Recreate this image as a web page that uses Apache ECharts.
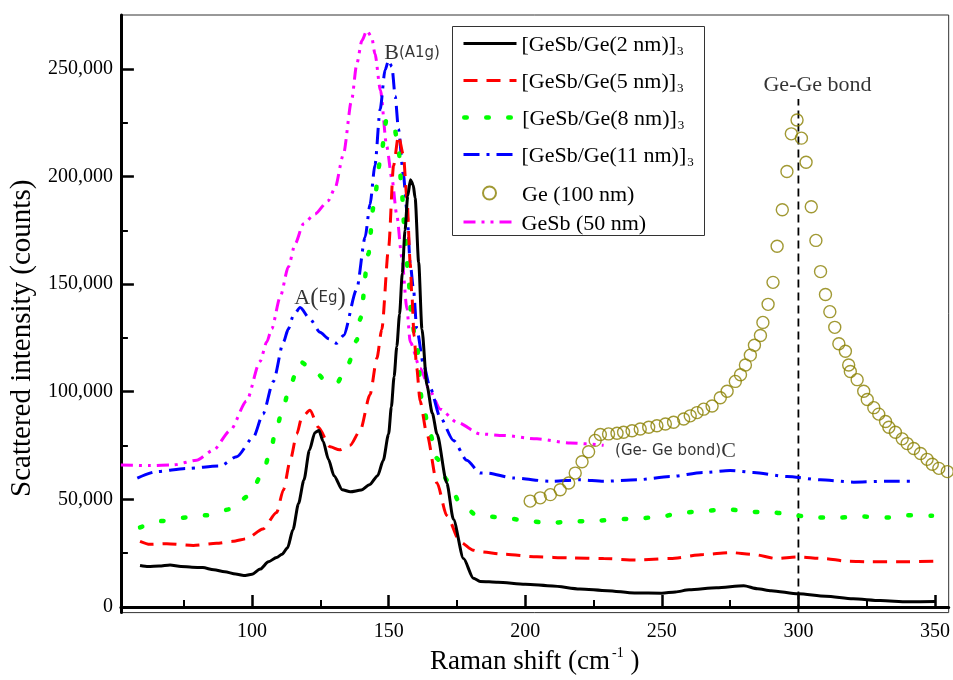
<!DOCTYPE html>
<html>
<head>
<meta charset="utf-8">
<script src="https://cdn.jsdelivr.net/npm/echarts@6/dist/echarts.min.js"></script>
<style>html,body{margin:0;padding:0;background:#fff;}#c{width:953px;height:680px;}</style>
</head>
<body>
<div id="c"></div>
<script>
// ---- data (Raman shift cm^-1, counts) ----
var nm2 = [[59,19300],[62,18800],[66,19000],[70,19500],[74,18800],[78,18500],[82,18300],[86,17300],[90,16400],[94,15300],[97,14600],[100,15200],[103,17600],[106,21000],[109,23000],[111,24500],[113,27500],[115,36000],[117,48000],[119,59000],[121,72800],[123,81000],[124.5,82000],[126,77000],[128,68500],[130,61000],[133,54500],[136,53500],[140,54300],[143,56800],[146,61000],[148,68000],[150,80400],[151,93000],[152,107000],[153,121000],[154,136000],[155,155000],[156,175000],[157,191000],[158,198500],[159,196000],[159.7,190000],[161,160000],[162.2,129000],[164,103000],[166,90000],[167.7,80400],[171.3,57600],[173.7,40800],[177.4,22500],[181,13400],[183.5,11900],[190,11500],[200,10600],[210,9800],[220,8400],[230,7600],[240,6500],[250,6400],[255,7000],[260,8000],[270,9000],[280,9900],[285,8500],[290,7600],[300,6100],[310,5000],[320,3800],[330,3000],[340,2400],[350,2500]];
var nm5 = [[59,30500],[62.6,29100],[68.8,29400],[78.5,28600],[87,29600],[93,30500],[98,31700],[104,36200],[109,43900],[111.5,54500],[114,68200],[116.4,80400],[118.2,88000],[121.2,91400],[124.3,83500],[128.6,74400],[132,73000],[135.9,75100],[139.6,82000],[143.2,98700],[145.7,115500],[147.5,129000],[150,167000],[151.8,205000],[153.6,219000],[155.4,210000],[156.7,190000],[157.9,160000],[158.5,145000],[159.3,126000],[160.3,111000],[161.5,95700],[164,80400],[167.7,57600],[171.3,42400],[176.2,30200],[181,26400],[183.5,25600],[192,24500],[204.3,23300],[216.5,22800],[228.7,22500],[240.9,21800],[253.1,22500],[265.3,24400],[275,25300],[283.6,24400],[292,22500],[299.5,23300],[309.3,22500],[317.8,21300],[326.4,21000],[338.6,21000],[350.2,21300]];
var nm8 = [[59,37000],[67.5,40000],[76,41600],[83.4,42600],[92,45400],[98.7,51500],[104,62200],[106.6,72000],[109,83500],[111.5,93400],[114,103300],[117.6,114000],[120.5,112000],[123.7,108600],[127,105000],[131,104000],[135.3,113200],[138.3,123800],[139.6,133800],[142.6,164000],[144.4,185500],[146.9,207000],[149.3,226700],[151.8,224400],[153.6,213700],[154.8,193000],[156,171800],[157.3,152000],[158.5,132200],[160.3,121600],[162.2,95600],[165.2,80400],[167.7,69000],[171.3,59000],[176.2,48400],[182.3,42600],[190.8,41600],[199.4,40400],[207.9,39000],[216.5,39600],[225,40100],[241,41100],[249.5,42000],[258,43900],[265.3,44600],[273.9,45400],[282.4,44200],[291,43900],[299.5,42400],[306.8,41600],[315.4,41600],[323.9,42000],[332.5,41600],[339.8,42600],[348.9,42400]];
var nm11 = [[58,59900],[65.1,62900],[76,64400],[88.3,65500],[94.4,69800],[100.5,78900],[104,89600],[107.8,104800],[111.5,123100],[113.3,129200],[115.1,135300],[117.6,139100],[121.2,133800],[124.9,127600],[128,124600],[131,122500],[133.5,126100],[138.3,147500],[141.4,171800],[143.2,187000],[145,205300],[146.9,231200],[148.7,249500],[150,254000],[151.2,251000],[152.4,237300],[153.6,222000],[155.4,200800],[156.7,184000],[157.9,159600],[159.1,147500],[160.3,129200],[162.8,112400],[165.2,101800],[168.9,88000],[173.7,77400],[178.6,68200],[183.5,62200],[186,62200],[195.7,59900],[209.2,58400],[220.1,59100],[228.7,58400],[241,59100],[253.1,60600],[265.3,62500],[275,63400],[283.6,62500],[295.8,60600],[308,59100],[320.2,58000],[332.5,58400],[342.9,58400]];
var ge100 = [[201.8,49200],[205.5,50700],[209.2,52200],[212.8,54500],[215.9,57600],[218.3,62200],[220.8,67500],[223.2,72100],[225.6,77400],[227.5,80100],[230.5,80400],[233.6,80700],[236,81200],[239.1,81900],[242.1,82700],[245.2,83500],[248.2,84200],[251.3,85000],[254.3,85800],[258,87300],[260.4,88800],[262.9,90300],[265.3,91900],[268.4,93400],[271.4,97200],[273.9,100200],[276.9,104800],[278.8,107900],[280.6,112400],[282.4,117000],[283.9,121600],[286.1,126100],[287,132200],[288.9,140600],[290.7,150800],[292.2,167600],[294.1,184500],[295.8,202300],[297.4,219800],[299.5,226200],[301.1,217800],[302.8,206600],[304.7,185900],[306.4,170300],[308.1,155800],[309.9,145200],[311.5,137200],[313.3,129900],[314.8,122300],[317.2,118800],[318.4,112400],[319,109400],[321.5,105600],[323.9,100200],[325.2,96400],[327.6,92600],[329.4,89600],[331.9,86200],[333.1,83500],[335.5,81200],[338,78100],[339.8,75900],[342.2,73600],[344.7,71300],[347.1,68600],[349,66300],[351.4,64400],[354.5,62900]];
var gesb50 = [[52,66000],[62.6,65700],[71.2,66000],[79.7,68200],[85.8,72800],[92,82000],[98,95700],[102.9,114000],[105.4,123100],[107.2,129200],[110.3,144000],[113.3,158000],[115.8,168800],[118.8,178000],[123,182500],[127.9,188700],[130.4,194700],[133.4,210000],[136.5,235800],[138.3,252000],[140.2,263000],[142,267800],[143.8,264700],[145,257000],[147,240000],[149.3,214000],[151.2,199000],[153,182000],[154.8,162700],[156.7,138500],[157.9,123100],[161.5,111000],[165.2,100200],[168.9,91900],[175,85800],[183.5,80400],[192,79700],[204.3,78100],[216.5,76200],[228.7,75100]];
var bondLine = [[300,-2600],[300,236000]];
var seriesNames = ['[GeSb/Ge(2 nm)]3','[GeSb/Ge(5 nm)]3','[GeSb/Ge(8 nm)]3','[GeSb/Ge(11 nm)]3','Ge (100 nm)','GeSb (50 nm)'];
var xMajor = [100,150,200,250,300,350];
var xMinor = [75,125,175,225,275,325];
var yMajor = [0,50000,100000,150000,200000,250000];
var yMinor = [25000,75000,125000,175000,225000];
var annotations = [
  {pos:[124.9,143500], text:'{a|A}{p|(}{s|Eg}{p|)}'},
  {pos:[158.6,257300], text:'{a|B}{s|(A1g)}'},
  {pos:[307,242500], text:'{a|Ge-Ge bond}'},
  {pos:[255,72300], text:'{s|(Ge- Ge bond)}{a|C}'}
];

var SERIF = 'Liberation Serif';
var SANS = 'DejaVu Sans';
var chart = echarts.init(document.getElementById('c'), null, {renderer:'canvas'});

function fmt(v){ return String(v).replace(/\B(?=(\d{3})+(?!\d))/g, ','); }

var lineStyles = {};
function lineSeries(name, data, color, type, width, cap){
  lineStyles[name] = {color: color, width: width, type: type, cap: cap || 'butt'};
  return {
    name: name, type: 'line', data: data, symbol: 'none', showSymbol: false,
    smooth: 0.25, smoothMonotone: 'x',
    lineStyle: lineStyles[name],
    itemStyle: {color: color}, z: 3
  };
}

var series = [
  lineSeries(seriesNames[5], gesb50, '#ff00ff', [12,6,3,6,3,6], 3),
  lineSeries(seriesNames[3], nm11, '#0000ff', [16,7,3,7], 3),
  lineSeries(seriesNames[2], nm8, '#00ff00', [2.5,19.5], 4.5, 'round'),
  lineSeries(seriesNames[1], nm5, '#ff0000', [14,9], 3),
  lineSeries(seriesNames[0], nm2, '#000000', 'solid', 3),
  {
    name: seriesNames[4], type: 'scatter', data: ge100, symbol: 'circle', symbolSize: 12,
    itemStyle: {color: 'rgba(255,255,255,0)', borderColor: '#8a8000', borderWidth: 1.4}, z: 4
  },
  {
    name: 'bond', type: 'line', data: bondLine, symbol: 'none', silent: true,
    lineStyle: {color: '#000', width: 1.8, type: [8,5]}, z: 2
  },
  {
    name: 'notes', type: 'scatter', symbolSize: 1, silent: true, z: 6,
    itemStyle: {color: 'rgba(0,0,0,0)'},
    data: annotations.map(function(a){ return {value: a.pos, label: {formatter: a.text}}; }),
    label: {show: true, position: 'inside', color: '#000', rich: {
      a: {fontFamily: SERIF, fontSize: 22, color: '#000'},
      p: {fontFamily: SERIF, fontSize: 25, color: '#000'},
      s: {fontFamily: SANS, fontSize: 15, color: '#000'}
    }}
  }
];

// legend: one entry per row so the row spacing matches the figure
var legendRowsY = [45, 82, 119, 156, 193, 222];
var legends = seriesNames.map(function(name, i){
  var sub = name.slice(-1) === '3';
  var half = sub ? 14.5 : 13;
  var isLine = name !== 'Ge (100 nm)';
  var rich = {
    t: {fontFamily: SERIF, fontSize: 22, color: '#000', padding: [4,0,0, isLine ? 0 : 21]},
    s: {fontFamily: SERIF, fontSize: 13, color: '#000', verticalAlign: 'top', padding: [16,0,0,1]}
  };
  var lg = {
    data: [name], orient: 'vertical', left: 452, top: legendRowsY[i] - half + 4,
    itemWidth: isLine ? 53 : 13, itemHeight: 13, padding: [0,0,0, isLine ? 10 : 30], selectedMode: false,
    formatter: function(n){ return sub ? '{t|' + n.slice(0, -1) + '}{s|3}' : '{t|' + n + '}'; },
    textStyle: {fontFamily: SERIF, fontSize: 22, color: '#000', rich: rich}
  };
  if (isLine) {
    lg.itemStyle = {color: 'rgba(0,0,0,0)', borderWidth: 0, borderColor: 'rgba(0,0,0,0)'};
    lg.lineStyle = lineStyles[name];
  }
  return lg;
});

var option = {
  animation: false,
  backgroundColor: '#fff',
  grid: {left: 120, right: 4, top: 15, bottom: 58, show: true, borderColor: '#333', borderWidth: 1},
  graphic: [{
    type: 'rect', left: 452, top: 26, z: 0,
    shape: {width: 252, height: 209},
    style: {fill: '#fff', stroke: '#333', lineWidth: 1}
  }],
  xAxis: [{
    type: 'value', min: 52, max: 355,
    axisLine: {show: true, lineStyle: {color: '#000', width: 3}},
    axisTick: {show: true, inside: true, length: 12, customValues: xMajor, lineStyle: {color: '#000', width: 2.5}},
    axisLabel: {customValues: xMajor, color: '#000', fontFamily: SERIF, fontSize: 20, margin: 9},
    splitLine: {show: false},
    name: '{n|Raman shift (cm}{sup|-1}{n| )}', nameLocation: 'middle', nameGap: 29,
    nameTextStyle: {rich: {
      n: {fontFamily: SERIF, fontSize: 27, color: '#000'},
      sup: {fontFamily: SERIF, fontSize: 14, color: '#000', padding: [0,0,16,2]}
    }}
  }, {
    type: 'value', min: 52, max: 355, position: 'bottom',
    axisLine: {show: false},
    axisTick: {show: true, inside: true, length: 7, customValues: xMinor, lineStyle: {color: '#000', width: 2}},
    axisLabel: {show: false}, splitLine: {show: false}
  }],
  yAxis: [{
    type: 'value', min: -2600, max: 275000,
    axisLine: {show: true, lineStyle: {color: '#000', width: 3}},
    axisTick: {show: true, inside: true, length: 13, customValues: yMajor, lineStyle: {color: '#000', width: 2.5}},
    axisLabel: {customValues: yMajor, color: '#000', fontFamily: SERIF, fontSize: 20, margin: 8, formatter: fmt},
    splitLine: {show: false},
    name: 'Scattered intensity (counts)', nameLocation: 'middle', nameGap: 80,
    nameTextStyle: {fontFamily: SERIF, fontSize: 29, color: '#000', padding: [0, 49, 0, 0]}
  }, {
    type: 'value', min: -2600, max: 275000, position: 'left',
    axisLine: {show: false},
    axisTick: {show: true, inside: true, length: 7, customValues: yMinor, lineStyle: {color: '#000', width: 2}},
    axisLabel: {show: false}, splitLine: {show: false}
  }],
  legend: legends,
  series: series
};
chart.setOption(option);
</script>
</body>
</html>
